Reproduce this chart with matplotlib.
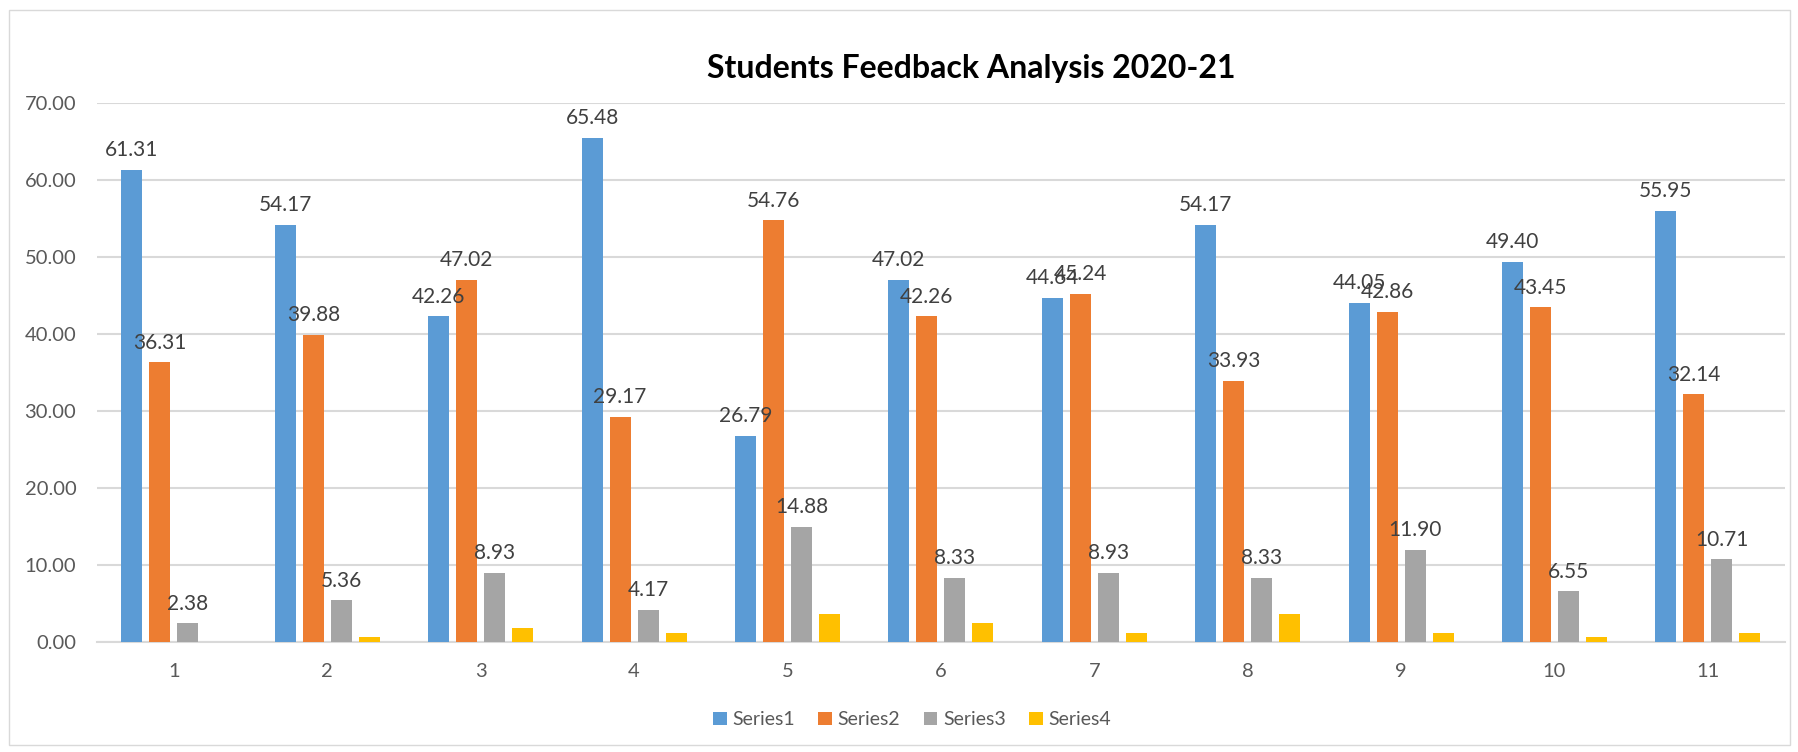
import matplotlib.pyplot as plt
import numpy as np
from matplotlib.patches import Rectangle

plt.rcParams['font.family'] = ['Lato', 'DejaVu Sans']

categorias = ['1', '2', '3', '4', '5', '6', '7', '8', '9', '10', '11']
serie1 = [61.31, 54.17, 42.26, 65.48, 26.79, 47.02, 44.64, 54.17, 44.05, 49.40, 55.95]
serie2 = [36.31, 39.88, 47.02, 29.17, 54.76, 42.26, 45.24, 33.93, 42.86, 43.45, 32.14]
serie3 = [2.38, 5.36, 8.93, 4.17, 14.88, 8.33, 8.93, 8.33, 11.90, 6.55, 10.71]
serie4 = [0.00, 0.60, 1.79, 1.19, 3.57, 2.38, 1.19, 3.57, 1.19, 0.60, 1.19]
nombres = ['Series1', 'Series2', 'Series3', 'Series4']
colores = ['#5B9BD5', '#ED7D31', '#A5A5A5', '#FFC000']
yticks = [0, 10, 20, 30, 40, 50, 60, 70]

fig = plt.figure(figsize=(17.99, 7.52), dpi=100)
ax = fig.add_axes([0.054, 0.1467, 0.938, 0.7163])

x = np.arange(len(categorias))
paso = 0.1825
ancho = 0.137
series = [serie1, serie2, serie3, serie4]
for i, (vals, nombre, color) in enumerate(zip(series, nombres, colores)):
    pos = x + (i - 1.5) * paso
    ax.bar(pos, vals, width=ancho, color=color, label=nombre, zorder=3)
    if i < 3:
        for xb, v in zip(pos, vals):
            ax.annotate(f'{v:.2f}', (xb, v), xytext=(0, 7), textcoords='offset points',
                        ha='center', va='bottom', fontsize=15, color='#404040', zorder=4)

ax.set_xlim(-0.5, len(categorias) - 0.5)
ax.set_ylim(0, 70)
ax.set_yticks(yticks)
ax.set_yticklabels([f'{t:.2f}' for t in yticks])
ax.set_xticks(x)
ax.set_xticklabels(categorias)
ax.tick_params(axis='both', length=0, labelsize=14.5, labelcolor='#595959')
ax.tick_params(axis='y', pad=15)
ax.tick_params(axis='x', pad=15)
ax.grid(axis='y', color='#D9D9D9', linewidth=1.5, zorder=0)
for lado in ['top', 'right', 'left']:
    ax.spines[lado].set_visible(False)
ax.spines['bottom'].set_color('#D9D9D9')
ax.spines['bottom'].set_linewidth(1.5)

fig.text(0.54, 0.909, 'Students Feedback Analysis 2020-21', ha='center', va='center',
         fontsize=23, fontweight='bold', color='black')

fig.legend(loc='center', bbox_to_anchor=(0.507, 0.043), ncol=4, frameon=False,
           fontsize=14, labelcolor='#595959', handlelength=0.7, handleheight=0.7,
           handletextpad=0.3, columnspacing=1.2)

fig.patches.append(Rectangle((0.005, 0.009), 0.99, 0.978, transform=fig.transFigure,
                             fill=False, edgecolor='#D9D9D9', linewidth=1))

fig.savefig('out.png', dpi=100)
